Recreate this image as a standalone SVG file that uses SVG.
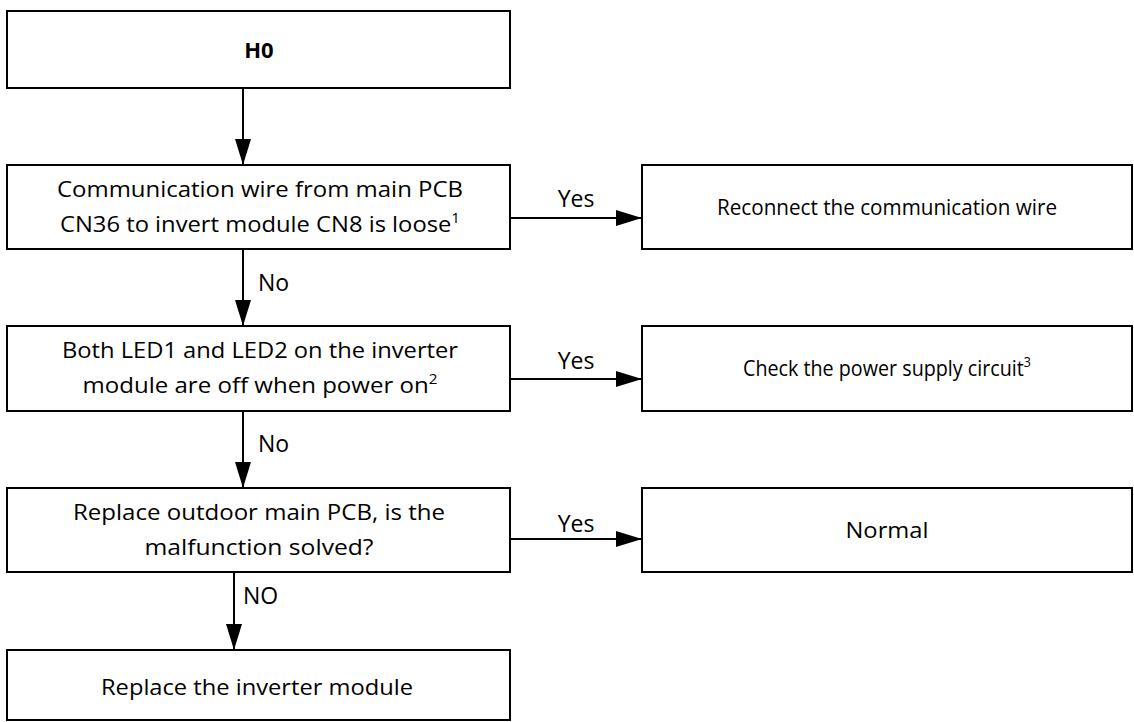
<svg xmlns="http://www.w3.org/2000/svg" width="1134" height="722" viewBox="0 0 1134 722">
  <style>
    .box { fill: #ffffff; stroke: #000000; stroke-width: 2; }
    .txt { font-family: "Open Sans", "Noto Sans", sans-serif; font-size: 22px; fill: #000000; text-anchor: middle; }
    .title { font-family: "Open Sans", "Noto Sans", sans-serif; font-size: 22px; font-weight: bold; fill: #000000; text-anchor: middle; }
    .lbl { font-family: "Open Sans", "Noto Sans", sans-serif; font-size: 23px; fill: #000000; }
    .sup { font-size: 14px; }
    .edge { fill: none; stroke: #000000; stroke-width: 2; }
  </style>
  <defs>
    <marker id="arrow" viewBox="0 0 26 16" refX="26" refY="8" markerWidth="26" markerHeight="16" markerUnits="userSpaceOnUse" orient="auto">
      <path d="M0,0 L26,8 L0,16 Z" fill="#000000"/>
    </marker>
  </defs>
  <rect width="1134" height="722" fill="#ffffff"/>

  <!-- connectors and their Yes/No labels -->
  <g id="connectors">
    <line class="edge" x1="243" y1="88" x2="243" y2="165" marker-end="url(#arrow)"/>
    <line class="edge" x1="510" y1="218" x2="642" y2="218" marker-end="url(#arrow)"/>
    <text class="lbl" x="576" y="207" text-anchor="middle">Yes</text>
    <line class="edge" x1="243" y1="249" x2="243" y2="326" marker-end="url(#arrow)"/>
    <text class="lbl" x="258" y="291">No</text>
    <line class="edge" x1="510" y1="379" x2="642" y2="379" marker-end="url(#arrow)"/>
    <text class="lbl" x="576" y="369" text-anchor="middle">Yes</text>
    <line class="edge" x1="243" y1="411" x2="243" y2="488" marker-end="url(#arrow)"/>
    <text class="lbl" x="258" y="452">No</text>
    <line class="edge" x1="510" y1="539" x2="642" y2="539" stroke="#555555" marker-end="url(#arrow)"/>
    <text class="lbl" x="576" y="532" text-anchor="middle">Yes</text>
    <line class="edge" x1="234" y1="572" x2="234" y2="650" marker-end="url(#arrow)"/>
    <text class="lbl" x="243" y="604">NO</text>
  </g>

  <g id="start">
    <rect class="box" x="7" y="11" width="503" height="77"/>
    <text class="title" x="259" y="58">H0</text>
  </g>

  <g id="check-wire">
    <rect class="box" x="7" y="165" width="503" height="84"/>
    <text class="txt" x="260" y="197" textLength="406" lengthAdjust="spacingAndGlyphs">Communication wire from main PCB</text>
    <text class="txt" x="260" y="232" textLength="400" lengthAdjust="spacingAndGlyphs">CN36 to invert module CN8 is loose<tspan class="sup" baseline-shift="super">1</tspan></text>
  </g>

  <g id="reconnect">
    <rect class="box" x="642" y="165" width="490" height="84"/>
    <text class="txt" x="887" y="215" textLength="340" lengthAdjust="spacingAndGlyphs">Reconnect the communication wire</text>
  </g>

  <g id="check-led">
    <rect class="box" x="7" y="326" width="503" height="85"/>
    <text class="txt" x="260" y="358" textLength="396" lengthAdjust="spacingAndGlyphs">Both LED1 and LED2 on the inverter</text>
    <text class="txt" x="260" y="393" textLength="355" lengthAdjust="spacingAndGlyphs">module are off when power on<tspan class="sup" baseline-shift="super">2</tspan></text>
  </g>

  <g id="power-supply">
    <rect class="box" x="642" y="326" width="490" height="85"/>
    <text class="txt" x="887" y="376" textLength="288" lengthAdjust="spacingAndGlyphs">Check the power supply circuit<tspan class="sup" baseline-shift="super">3</tspan></text>
  </g>

  <g id="replace-pcb">
    <rect class="box" x="7" y="488" width="503" height="84"/>
    <text class="txt" x="259" y="520" textLength="372" lengthAdjust="spacingAndGlyphs">Replace outdoor main PCB, is the</text>
    <text class="txt" x="259" y="555" textLength="229" lengthAdjust="spacingAndGlyphs">malfunction solved?</text>
  </g>

  <g id="normal">
    <rect class="box" x="642" y="488" width="490" height="84"/>
    <text class="txt" x="887" y="538" textLength="83" lengthAdjust="spacingAndGlyphs">Normal</text>
  </g>

  <g id="replace-module">
    <rect class="box" x="7" y="650" width="503" height="70"/>
    <text class="txt" x="257" y="695" textLength="312" lengthAdjust="spacingAndGlyphs">Replace the inverter module</text>
  </g>
</svg>
